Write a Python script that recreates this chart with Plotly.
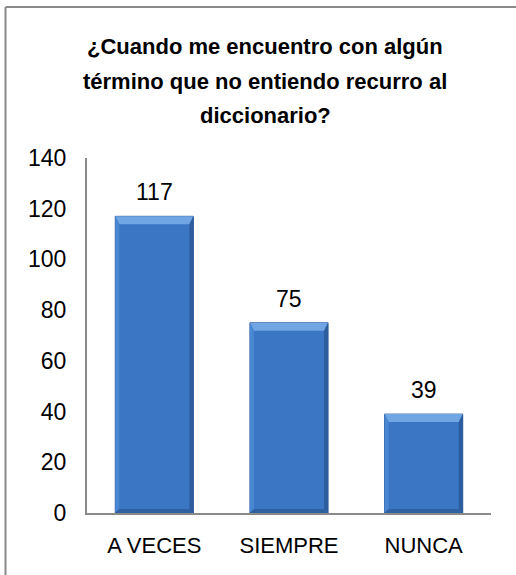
import plotly.graph_objects as go

# Survey answers
categories = ["A VECES", "SIEMPRE", "NUNCA"]
counts = [117, 75, 39]
y_ticks = [0, 20, 40, 60, 80, 100, 120, 140]
title_lines = [
    "¿Cuando me encuentro con algún",
    "término que no entiendo recurro al",
    "diccionario?",
]

FONT = "Liberation Sans Narrow, Arial Narrow, Liberation Sans, Arial, sans-serif"
W, H = 516, 575
L, R, T, B = 87, 25, 158, 62
plot_w, plot_h = W - L - R, H - T - B
Y_MAX = 140
BAR_W = 0.58

xs = list(range(len(categories)))

fig = go.Figure()
fig.add_trace(go.Bar(
    x=xs, y=counts, width=BAR_W,
    marker=dict(color="#3B76C4", line=dict(color="#2C5E9F", width=1)),
    hoverinfo="skip",
))

# bevel edges drawn over each bar (sizes in axis units)
hw = BAR_W / 2
dx = 4 / (plot_w / len(categories))
dy = 8 / (plot_h / Y_MAX)
for x, v in zip(xs, counts):
    a, b = x - hw, x + hw
    bevels = [
        (f"M {a},{v} L {b},{v} L {b-dx},{v-dy} L {a+dx},{v-dy} Z", "#6FA6E3"),
        (f"M {a},0 L {a},{v} L {a+dx},{v-dy} L {a+dx},{dy/2} Z", "#4A87D3"),
        (f"M {b},0 L {b},{v} L {b-dx},{v-dy} L {b-dx},{dy/2} Z", "#2D5D9D"),
        (f"M {a},0 L {b},0 L {b-dx},{dy/2} L {a+dx},{dy/2} Z", "#2F609F"),
    ]
    for path, col in bevels:
        fig.add_shape(type="path", xref="x", yref="y", path=path,
                      fillcolor=col, line=dict(width=0), layer="above")

# value labels above each bar
for x, v in zip(xs, counts):
    fig.add_annotation(x=x, y=v, text=str(v), showarrow=False,
                       yanchor="bottom", yshift=9,
                       font=dict(family=FONT, size=23, color="#000"))

# title, one annotation per line
for i, line in enumerate(title_lines):
    fig.add_annotation(xref="paper", yref="paper",
                       x=(265 - L) / plot_w, y=(H - B - (47 + 34.5 * i)) / plot_h,
                       text=f"<b>{line}</b>", showarrow=False,
                       xanchor="center", yanchor="middle",
                       font=dict(family=FONT, size=22, color="#000"))

# chart frame (top and left edges)
fx0 = (5.5 - L) / plot_w
fy1 = (H - B - 7) / plot_h
fig.add_shape(type="line", xref="paper", yref="paper", x0=fx0, x1=1.2, y0=fy1, y1=fy1,
              line=dict(color="#8A8A8A", width=2))
fig.add_shape(type="line", xref="paper", yref="paper", x0=fx0, x1=fx0, y0=-0.3, y1=fy1,
              line=dict(color="#8A8A8A", width=2))

fig.update_layout(
    width=W, height=H,
    margin=dict(l=L, r=R, t=T, b=B),
    paper_bgcolor="white", plot_bgcolor="white",
    showlegend=False,
    font=dict(family=FONT, size=23, color="#000"),
)
fig.update_xaxes(range=[-0.5, len(categories) - 0.5], tickvals=xs, ticktext=categories,
                 showline=True, linecolor="#8A8A8A", linewidth=2, ticks="",
                 showgrid=False, zeroline=False, tickfont=dict(family=FONT, size=22),
                 ticklabelstandoff=12)
fig.update_yaxes(range=[0, Y_MAX], tickvals=y_ticks, showline=True, linecolor="#8A8A8A",
                 linewidth=2, showgrid=False, zeroline=False, ticks="",
                 tickfont=dict(family=FONT, size=23), ticklabelstandoff=14)

fig.write_html("out.html")
